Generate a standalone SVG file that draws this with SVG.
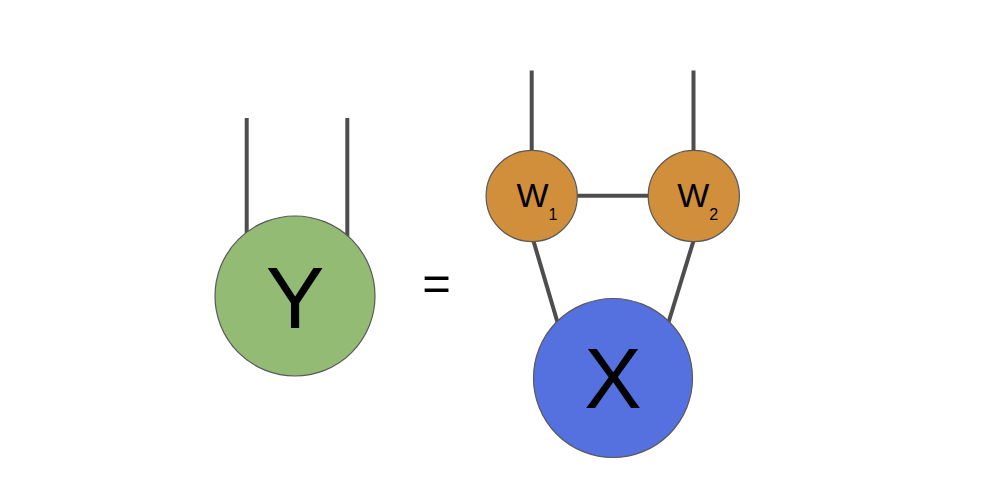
<svg xmlns="http://www.w3.org/2000/svg" width="982" height="486" viewBox="0 0 982 486">
<style>
.edge{stroke:#4d4d4d;stroke-width:4;fill:none}
.node{stroke:#595959;stroke-width:1.2}
.lbl{font-family:"Liberation Sans",Arial,sans-serif;fill:#000;text-anchor:middle}
</style>
<rect width="982" height="486" fill="#ffffff"/>
<g id="connectors">
<line class="edge" x1="246.7" y1="118" x2="246.7" y2="240"/>
<line class="edge" x1="347.3" y1="118" x2="347.3" y2="240"/>
<line class="edge" x1="531.7" y1="70.5" x2="531.7" y2="160"/>
<line class="edge" x1="693.5" y1="70.5" x2="693.5" y2="160"/>
<line class="edge" x1="570" y1="195.7" x2="655" y2="195.7"/>
<line class="edge" x1="532" y1="236" x2="558" y2="324"/>
<line class="edge" x1="695" y1="236" x2="668" y2="324"/>
</g>
<g id="node-Y">
<circle class="node" cx="295" cy="296" r="80" fill="#93bb74"/>
<text class="lbl" x="295" y="328" font-size="88">Y</text>
</g>
<g id="equals">
<text class="lbl" x="436.5" y="300" font-size="49">=</text>
</g>
<g id="node-W1">
<circle class="node" cx="531.7" cy="196" r="45.6" fill="#d18f3c"/>
<text class="lbl" x="532.5" y="206.7" font-size="34">W</text>
<text class="lbl" x="553" y="220" font-size="16">1</text>
</g>
<g id="node-W2">
<circle class="node" cx="693.8" cy="196" r="45.6" fill="#d18f3c"/>
<text class="lbl" x="693.3" y="206.7" font-size="34">W</text>
<text class="lbl" x="713.8" y="220" font-size="16">2</text>
</g>
<g id="node-X">
<circle class="node" cx="613" cy="378" r="79.5" fill="#5571e0"/>
<text class="lbl" x="613" y="408.3" font-size="86">X</text>
</g>
</svg>
